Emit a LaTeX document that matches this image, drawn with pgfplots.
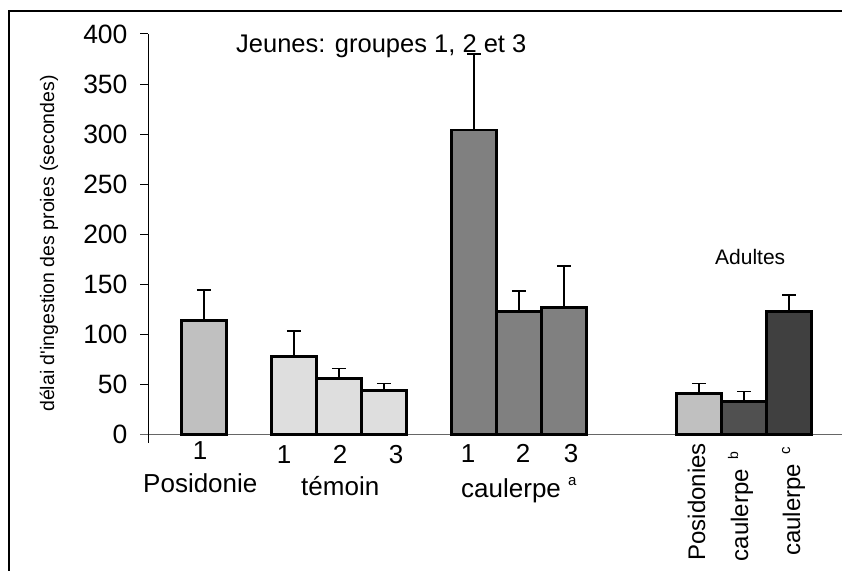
\documentclass[border=0pt]{standalone}
\usepackage{fontspec}
\setmainfont{Liberation Sans}
\usepackage{pgfplots}
\pgfplotsset{compat=1.18}

\definecolor{posi}{HTML}{C0C0C0}
\definecolor{temoin}{HTML}{DEDEDE}
\definecolor{caulj}{HTML}{808080}
\definecolor{caulb}{HTML}{505050}
\definecolor{caulc}{HTML}{404040}

\pgfplotsset{
    barre/.style={ybar, bar width=1, bar shift=0pt, draw=black, fill=#1,
        /tikz/line width=2.6pt,
        error bars/y dir=plus, error bars/y explicit,
        error bars/error bar style={black, line width=1.8pt},
        error bars/error mark options={black, line width=1.8pt, mark size=7pt, rotate=90}},
}

\begin{document}
\begin{tikzpicture}[x=1pt,y=1pt]
\path[use as bounding box] (0,0) rectangle (842,570);
\draw[line width=1.2pt] (9,-2) -- (9,559) -- (845,559);

\begin{axis}[
    at={(148pt,135.5pt)}, anchor=south west,
    scale only axis, width=694pt, height=400.5pt,
    xmin=-1.244, xmax=14.178, ymin=0, ymax=400,
    axis lines=left,
    axis line style={-},
    x axis line style={draw=black!60, line width=1.6pt, shorten <=-8pt},
    y axis line style={black, line width=1pt},
    xtick=\empty,
    extra x ticks={-1.244},
    extra x tick labels={},
    extra x tick style={tick align=outside, major tick length=8pt,
        tick style={black, line width=1pt}},
    ytick={0,50,...,400},
    tick align=outside, major tick length=8pt,
    tick style={black, line width=1pt},
    /pgf/number format/assume math mode=true,
    yticklabel style={font=\fontsize{26.5}{26}\selectfont, anchor=east, xshift=-9pt},
    clip=false,
]
% juvéniles, groupe 1 sur posidonie
\addplot[barre=posi] coordinates {(0,114) +- (0,30)};
% témoin 1, 2, 3
\addplot[barre=temoin] coordinates {(2,78) +- (0,25) (3,56) +- (0,10) (4,44) +- (0,7)};
% caulerpe 1, 2, 3
\addplot[barre=caulj] coordinates {(6,304) +- (0,76) (7,123) +- (0,20) (8,127) +- (0,41)};
% adultes
\addplot[barre=posi] coordinates {(11,41) +- (0,10)};
\addplot[barre=caulb] coordinates {(12,33) +- (0,10)};
\addplot[barre=caulc] coordinates {(13,123) +- (0,16)};
\end{axis}

% titre de l'axe y
\node[rotate=90, anchor=base, font=\fontsize{19.5}{20}\selectfont]
    at (54,326.5) {délai d\textquotesingle ingestion des proies (secondes)};

% annotations
\node[anchor=base west, font=\fontsize{25.5}{25}\selectfont, inner sep=0pt]
    at (236,517) {Jeunes: groupes 1, 2 et 3};
\node[anchor=base west, font=\fontsize{21}{21}\selectfont, inner sep=0pt]
    at (715,305) {Adultes};

% étiquettes des catégories
\begin{scope}[every node/.style={font=\fontsize{26}{25}\selectfont, inner sep=0pt}]
\node[anchor=base] at (200,111) {1};
\node[anchor=base] at (284,107) {1};
\node[anchor=base] at (340,107) {2};
\node[anchor=base] at (396,107) {3};
\node[anchor=base] at (468,108) {1};
\node[anchor=base] at (523,108) {2};
\node[anchor=base] at (571,108) {3};
\node[anchor=base west] at (143,78) {Posidonie};
\node[anchor=base west] at (301,75) {témoin};
\node[anchor=base west] at (461,73) {caulerpe \raisebox{12pt}{\fontsize{15}{15}\selectfont a}};
\end{scope}

\begin{scope}[every node/.style={font=\fontsize{24}{24}\selectfont, inner sep=0pt, rotate=90, anchor=base east}]
\node at (705,127) {Posidonies};
\node at (748,118) {caulerpe\hspace{9pt}\raisebox{10pt}{\fontsize{14}{14}\selectfont b}};
\node at (800,123) {caulerpe\hspace{9pt}\raisebox{10pt}{\fontsize{15}{15}\selectfont c}};
\end{scope}
\end{tikzpicture}
\end{document}
